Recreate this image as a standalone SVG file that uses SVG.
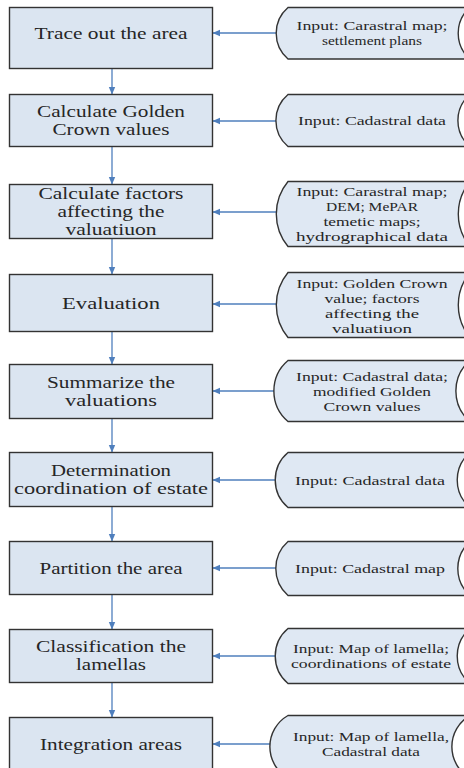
<svg xmlns="http://www.w3.org/2000/svg" width="464" height="768" viewBox="0 0 464 768">
<style>
.box{fill:#dbe5f1;stroke:#333333;stroke-width:1.4}
.inp{fill:#dfe8f3;stroke:#333333;stroke-width:1.4}
.bt{font-family:"Liberation Serif","Times New Roman",serif;font-size:16.5px;fill:#262626;text-anchor:middle}
.it{font-family:"Liberation Serif","Times New Roman",serif;font-size:13.5px;fill:#262626;text-anchor:middle}
.con{stroke:#4f7fbd;stroke-width:1.3;fill:none;marker-end:url(#ah)}
</style>
<defs>
<marker id="ah" markerUnits="userSpaceOnUse" markerWidth="8" markerHeight="8" viewBox="0 0 8 8" refX="7" refY="4" orient="auto">
<path d="M0,0.8 L7.5,4 L0,7.2 Z" fill="#4f7fbd"/>
</marker>
</defs>
<rect width="464" height="768" fill="#ffffff"/>
<g id="connectors">
<line class="con" x1="112" y1="68" x2="112" y2="94"/>
<line class="con" x1="112" y1="147" x2="112" y2="184"/>
<line class="con" x1="112" y1="239" x2="112" y2="274"/>
<line class="con" x1="112" y1="332" x2="112" y2="364"/>
<line class="con" x1="112" y1="419" x2="112" y2="452"/>
<line class="con" x1="112" y1="507" x2="112" y2="541"/>
<line class="con" x1="112" y1="595" x2="112" y2="629"/>
<line class="con" x1="112" y1="683" x2="112" y2="717"/>
<line class="con" x1="276" y1="33" x2="213" y2="33"/>
<line class="con" x1="276" y1="121" x2="213" y2="121"/>
<line class="con" x1="276" y1="212" x2="213" y2="212"/>
<line class="con" x1="276" y1="304" x2="213" y2="304"/>
<line class="con" x1="276" y1="391" x2="213" y2="391"/>
<line class="con" x1="276" y1="480" x2="213" y2="480"/>
<line class="con" x1="276" y1="568" x2="213" y2="568"/>
<line class="con" x1="276" y1="656" x2="213" y2="656"/>
<line class="con" x1="276" y1="744" x2="213" y2="744"/>
</g>
<g id="step1">
<rect class="box" x="9.5" y="7.5" width="203" height="61"/>
<text class="bt" x="111" y="39" textLength="153" lengthAdjust="spacingAndGlyphs" style="font-size:17.5px">Trace out the area</text>
</g>
<g id="input1">
<path class="inp" d="M288,7.5 H470 A34 34 0 0 0 470,59 H288 A34 34 0 0 1 288,7.5 Z"/>
<text class="it" x="372" y="30" textLength="151" lengthAdjust="spacingAndGlyphs">Input: Carastral map;</text>
<text class="it" x="372" y="45" textLength="100" lengthAdjust="spacingAndGlyphs">settlement plans</text>
</g>
<g id="step2">
<rect class="box" x="9.5" y="94.5" width="203" height="52"/>
<text class="bt" x="111" y="116.5" textLength="148" lengthAdjust="spacingAndGlyphs">Calculate Golden</text>
<text class="bt" x="111" y="135" textLength="117" lengthAdjust="spacingAndGlyphs">Crown values</text>
</g>
<g id="input2">
<path class="inp" d="M288,94.5 H470 A34 34 0 0 0 470,146.5 H288 A34 34 0 0 1 288,94.5 Z"/>
<text class="it" x="372" y="125" textLength="148" lengthAdjust="spacingAndGlyphs">Input: Cadastral data</text>
</g>
<g id="step3">
<rect class="box" x="9.5" y="184.5" width="203" height="54"/>
<text class="bt" x="111" y="199" textLength="145" lengthAdjust="spacingAndGlyphs">Calculate factors</text>
<text class="bt" x="111" y="217" textLength="107" lengthAdjust="spacingAndGlyphs">affecting the</text>
<text class="bt" x="111" y="235" textLength="91" lengthAdjust="spacingAndGlyphs">valuatiuon</text>
</g>
<g id="input3">
<path class="inp" d="M288,181.5 H470 A51 51 0 0 0 470,246.5 H288 A51 51 0 0 1 288,181.5 Z"/>
<text class="it" x="372" y="196" textLength="151" lengthAdjust="spacingAndGlyphs">Input: Carastral map;</text>
<text class="it" x="372" y="211" textLength="92" lengthAdjust="spacingAndGlyphs">DEM; MePAR</text>
<text class="it" x="372" y="226" textLength="97" lengthAdjust="spacingAndGlyphs">temetic maps;</text>
<text class="it" x="372" y="241" textLength="152" lengthAdjust="spacingAndGlyphs">hydrographical data</text>
</g>
<g id="step4">
<rect class="box" x="9.5" y="274.5" width="203" height="57"/>
<text class="bt" x="111" y="309" textLength="98" lengthAdjust="spacingAndGlyphs" style="font-size:17px">Evaluation</text>
</g>
<g id="input4">
<path class="inp" d="M288,272.5 H470 A51 51 0 0 0 470,337.5 H288 A51 51 0 0 1 288,272.5 Z"/>
<text class="it" x="372" y="288" textLength="151" lengthAdjust="spacingAndGlyphs">Input: Golden Crown</text>
<text class="it" x="372" y="303" textLength="95" lengthAdjust="spacingAndGlyphs">value; factors</text>
<text class="it" x="372" y="318" textLength="94" lengthAdjust="spacingAndGlyphs">affecting the</text>
<text class="it" x="372" y="333" textLength="80" lengthAdjust="spacingAndGlyphs">valuatiuon</text>
</g>
<g id="step5">
<rect class="box" x="9.5" y="364.5" width="203" height="54"/>
<text class="bt" x="111" y="387.5" textLength="128" lengthAdjust="spacingAndGlyphs">Summarize the</text>
<text class="bt" x="111" y="406" textLength="92" lengthAdjust="spacingAndGlyphs">valuations</text>
</g>
<g id="input5">
<path class="inp" d="M288,360.5 H470 A40 40 0 0 0 470,421.5 H288 A40 40 0 0 1 288,360.5 Z"/>
<text class="it" x="372" y="381" textLength="152" lengthAdjust="spacingAndGlyphs">Input: Cadastral data;</text>
<text class="it" x="372" y="396" textLength="118" lengthAdjust="spacingAndGlyphs">modified Golden</text>
<text class="it" x="372" y="411" textLength="97" lengthAdjust="spacingAndGlyphs">Crown values</text>
</g>
<g id="step6">
<rect class="box" x="9.5" y="452.5" width="203" height="54"/>
<text class="bt" x="111" y="475.5" textLength="120" lengthAdjust="spacingAndGlyphs">Determination</text>
<text class="bt" x="111" y="494" textLength="194" lengthAdjust="spacingAndGlyphs">coordination of estate</text>
</g>
<g id="input6">
<path class="inp" d="M288,452.5 H470 A36 36 0 0 0 470,507.5 H288 A36 36 0 0 1 288,452.5 Z"/>
<text class="it" x="370" y="485" textLength="150" lengthAdjust="spacingAndGlyphs">Input: Cadastral data</text>
</g>
<g id="step7">
<rect class="box" x="9.5" y="541.5" width="203" height="53"/>
<text class="bt" x="111" y="574" textLength="143" lengthAdjust="spacingAndGlyphs" style="font-size:17.5px">Partition the area</text>
</g>
<g id="input7">
<path class="inp" d="M288,541.5 H470 A36 36 0 0 0 470,595.5 H288 A36 36 0 0 1 288,541.5 Z"/>
<text class="it" x="370" y="573" textLength="150" lengthAdjust="spacingAndGlyphs">Input: Cadastral map</text>
</g>
<g id="step8">
<rect class="box" x="9.5" y="629.5" width="203" height="53"/>
<text class="bt" x="111" y="651.5" textLength="150" lengthAdjust="spacingAndGlyphs">Classification the</text>
<text class="bt" x="111" y="670" textLength="70" lengthAdjust="spacingAndGlyphs">lamellas</text>
</g>
<g id="input8">
<path class="inp" d="M288,628.5 H470 A36 36 0 0 0 470,683.5 H288 A36 36 0 0 1 288,628.5 Z"/>
<text class="it" x="371" y="653" textLength="156" lengthAdjust="spacingAndGlyphs">Input: Map of lamella;</text>
<text class="it" x="371" y="668" textLength="160" lengthAdjust="spacingAndGlyphs">coordinations of estate</text>
</g>
<g id="step9">
<rect class="box" x="9.5" y="717.5" width="203" height="60"/>
<text class="bt" x="111" y="750" textLength="142" lengthAdjust="spacingAndGlyphs" style="font-size:17.5px">Integration areas</text>
</g>
<g id="input9">
<path class="inp" d="M288,715.5 H470 A36 36 0 0 0 470,778 H288 A36 36 0 0 1 288,715.5 Z"/>
<text class="it" x="371" y="741" textLength="156" lengthAdjust="spacingAndGlyphs">Input: Map of lamella,</text>
<text class="it" x="371" y="756" textLength="98" lengthAdjust="spacingAndGlyphs">Cadastral data</text>
</g>
</svg>
